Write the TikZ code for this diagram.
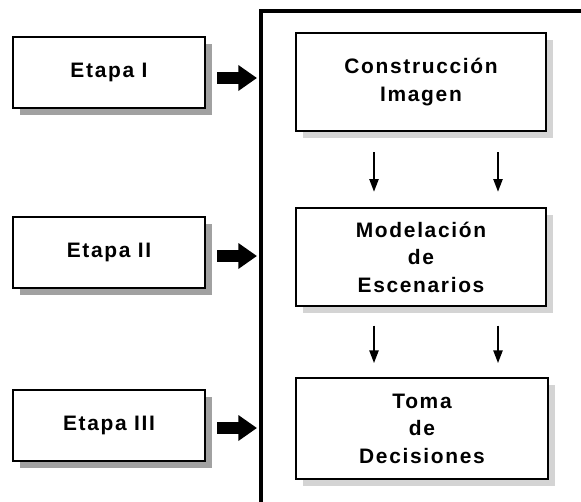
\documentclass[tikz,border=0pt]{standalone}
\usepackage{fontspec}
\setmainfont{Liberation Sans}[LetterSpace=8]
\usetikzlibrary{arrows.meta,shadows}
\begin{document}
\begin{tikzpicture}[x=0.75pt,y=-0.75pt,
  etapabox/.style={draw=black, line width=1.5pt, fill=white, minimum width=144pt, minimum height=53.25pt,
    inner sep=0pt, font=\fontsize{15.7}{20.6}\selectfont\bfseries,
    drop shadow={shadow xshift=5.25pt, shadow yshift=-5.25pt, fill=black!37, opacity=1}},
  fasebox/.style={draw=black, line width=1.5pt, fill=white, minimum width=187.5pt, minimum height=73.5pt,
    inner sep=0pt, align=center, font=\fontsize{15.7}{20.6}\selectfont\bfseries,
    drop shadow={shadow xshift=5.5pt, shadow yshift=-5.25pt, fill=black!17, opacity=1}},
  bigarrow/.style={line width=9.5pt, -{Triangle[length=14pt,width=18.5pt]}, shorten <=8.25pt},
  smallarrow/.style={line width=1.1pt, -{Triangle[length=9.5pt,width=7pt]}},
  frameline/.style={line width=3pt, line cap=rect}
]
\useasboundingbox (0,0) rectangle (581,501);
\fill[white] (0,0) rectangle (581,501);
% big frame
\coordinate (fb) at (261,520);
\coordinate (fc) at (261,11);
\coordinate (fr) at (600,11);
\draw[frameline] (fb) -- (fc) -- (fr);
% left boxes
\node[etapabox] (e1) at (109,72.5) {Etapa I};
\node[etapabox] (e2) at (109,252.5) {Etapa II};
\node[etapabox] (e3) at (109,425.5) {Etapa III};
% right boxes
\node[fasebox] (c1) at (421,82) {Construcción\\Imagen};
\node[fasebox] (c2) at (421,257) {Modelación\\de\\Escenarios};
\node[fasebox, minimum width=189pt, minimum height=75.75pt] (c3) at (422,428.5) {Toma\\de\\Decisiones};
% thick arrows
\coordinate (t1) at (257,78);
\coordinate (t2) at (257,256);
\coordinate (t3) at (257,428);
\draw[bigarrow] (e1.east |- t1) -- (t1);
\draw[bigarrow] (e2.east |- t2) -- (t2);
\draw[bigarrow] (e3.east |- t3) -- (t3);
% small arrows
\draw[smallarrow] ([xshift=-35.25pt,yshift=-15pt]c1.south) -- ([xshift=-35.25pt,yshift=11.5pt]c2.north);
\draw[smallarrow] ([xshift=57.75pt,yshift=-15pt]c1.south) -- ([xshift=57.75pt,yshift=11.5pt]c2.north);
\draw[smallarrow] ([xshift=-35.25pt,yshift=-14pt]c2.south) -- ([xshift=-36pt,yshift=10.5pt]c3.north);
\draw[smallarrow] ([xshift=57.75pt,yshift=-14pt]c2.south) -- ([xshift=57pt,yshift=10.5pt]c3.north);
\end{tikzpicture}
\end{document}
